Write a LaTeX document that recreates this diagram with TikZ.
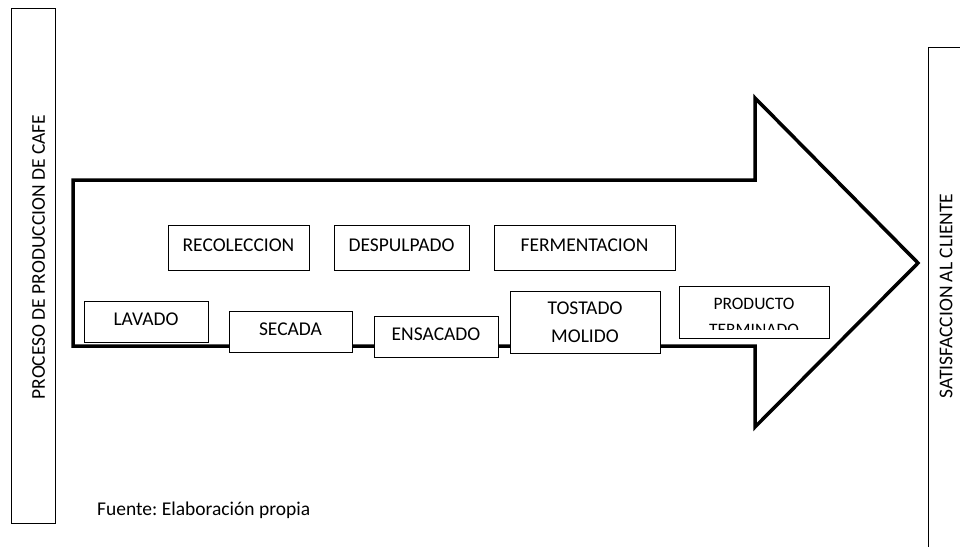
\documentclass[tikz,border=0pt]{standalone}
\usepackage{fontspec}
\setmainfont{Carlito}
\usetikzlibrary{positioning}
\frenchspacing

\begin{document}
\begin{tikzpicture}[x=1pt, y=-1pt,
  paso/.style = {draw, fill=white, line width=1pt, inner sep=0pt, text depth=5pt, font=\fontsize{19.5}{24}\selectfont},
  lateral/.style = {draw, line width=1pt, inner sep=0pt},
  rotulo/.style = {rotate=90, inner sep=0pt, font=\fontsize{19.5}{24}\selectfont},
  node distance=24pt]
\useasboundingbox (0,0) rectangle (960,546);

%flecha
\draw[line width=3.5pt, line join=miter] (73,180) -- (755,180) -- (755,98) -- (918,263) -- (755,427) -- (755,346) -- (73,346) -- cycle;

%laterales
\node[lateral, minimum width=44pt, minimum height=515pt] (proceso) at (33,265.5) {};
\node[rotulo] (procesotxt) at (38.5,257) {PROCESO DE PRODUCCION DE CAFE};
\coordinate (c1) at (962,47);
\coordinate (c2) at (928,47);
\coordinate (c3) at (928,548);
\draw[line width=1pt] (c1) -- (c2) -- (c3);
\node[rotulo] (satisfaccion) at (946,296) {SATISFACCION AL CLIENTE};

%fila superior
\node[paso, minimum width=141pt, minimum height=45pt] (recoleccion) at (238.5,247.5) {RECOLECCION};
\node[paso, minimum width=135pt, minimum height=45pt] (despulpado) [right=of recoleccion] {DESPULPADO};
\node[paso, minimum width=181pt, minimum height=45pt] (fermentacion) [right=of despulpado] {FERMENTACION};

%fila inferior
\node[paso, minimum width=124pt, minimum height=41pt] (lavado) at (146,321.5) {LAVADO};
\node[paso, minimum width=123pt, minimum height=41pt] (secada) [right=20pt of lavado, yshift=-10pt] {SECADA};
\node[paso, minimum width=124pt, minimum height=41pt] (ensacado) [right=21pt of secada, yshift=-5pt] {ENSACADO};
\node[paso, minimum width=150pt, minimum height=62pt, align=center, text depth=0pt, font=\fontsize{19.5}{28}\selectfont] (tostado) [right=11pt of ensacado, yshift=14.5pt] {TOSTADO\\MOLIDO};
\node[paso, minimum width=150pt, minimum height=52pt] (producto) [right=18pt of tostado, yshift=10pt] {};
\begin{scope}
\clip (producto.north west) rectangle ([yshift=-44pt]producto.north east);
\node[font=\fontsize{17.5}{26}\selectfont, align=center, anchor=north, inner sep=0pt] (productotxt) at ([yshift=-12pt]producto.north) {PRODUCTO\\TERMINADO};
\end{scope}

%fuente
\node[anchor=base west, inner sep=0pt, font=\fontsize{19.5}{24}\selectfont] (fuente) at (97,515) {Fuente: Elaboración propia};
\end{tikzpicture}
\end{document}
